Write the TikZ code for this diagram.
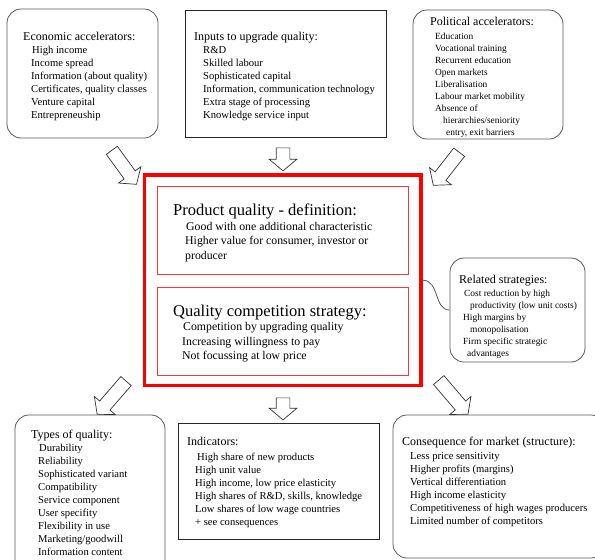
\documentclass[tikz,border=0pt]{standalone}
\usepackage{fontspec}
\setmainfont{Liberation Serif}
\usetikzlibrary{shapes.arrows, positioning}
\newcommand{\boxhead}[1]{{\fontsize{12}{13}\selectfont #1}}
\newcommand{\corehead}[1]{{\fontsize{16.5}{18}\selectfont #1}}

\begin{document}
\begin{tikzpicture}[x=1pt, y=-1pt]
    % styles
    \tikzstyle{rbox} = [rectangle, draw=black!65, line width=0.8pt, rounded corners=14pt]
    \tikzstyle{sbox} = [rectangle, draw=black!85, line width=0.8pt]
    \tikzstyle{redbox} = [rectangle, draw=red!80, line width=0.8pt]
    \tikzstyle{list} = [align=left, inner sep=0pt, anchor=north west, font=\fontsize{10.6}{13}\selectfont]
    \tikzstyle{small} = [list, font=\fontsize{9.4}{12}\selectfont]
    \tikzstyle{core} = [list, font=\fontsize{11.8}{14.5}\selectfont]
    \tikzstyle{fat} = [single arrow, draw=black!80, fill=white, line width=0.7pt, inner xsep=0pt, inner ysep=6.5pt, minimum width=27pt, single arrow head extend=7pt, single arrow tip angle=100]
    \tikzstyle{link} = [draw=black!65, line width=0.8pt]

    \useasboundingbox (0,0) rectangle (595,560);

    % boxes
    \node [rbox, minimum width=151pt, minimum height=129pt] (econ) at (82.5,73.5) {};
    \node [sbox, minimum width=201pt, minimum height=127pt] (inputs) at (285.5,73.5) {};
    \node [rbox, minimum width=150pt, minimum height=129pt] (polit) at (488,74.5) {};
    \node [rectangle, draw=red, line width=3.5pt, minimum width=276.5pt, minimum height=210.5pt] (main) at (282.75,280.25) {};
    \node [redbox, minimum width=251pt, minimum height=88pt] (def) at (282.5,230) {};
    \node [redbox, minimum width=251pt, minimum height=88pt] (strat) at (282.5,331) {};
    \node [rbox, minimum width=135pt, minimum height=104pt] (rel) at (517.5,310) {};
    \node [rbox, minimum width=150pt, minimum height=160pt] (types) at (90,495) {};
    \node [sbox, minimum width=201pt, minimum height=116pt] (ind) at (278.5,481) {};
    \node [rbox, minimum width=212pt, minimum height=143pt] (cons) at (499,486.5) {};

    % texts
    \node [list] (econtxt) at (23,32.3) {\boxhead{Economic accelerators:}\\
        \hspace*{9pt}High income\\
        \hspace*{8pt}Income spread\\
        \hspace*{8pt}Information (about quality)\\
        \hspace*{8pt}Certificates, quality classes\\
        \hspace*{8pt}Venture capital\\
        \hspace*{8pt}Entrepreneuship};
    \node [list] (inputstxt) at (194,32.3) {\boxhead{Inputs to upgrade quality:}\\
        \hspace*{9pt}R\&D\\
        \hspace*{9pt}Skilled labour\\
        \hspace*{9pt}Sophisticated capital\\
        \hspace*{9pt}Information, communication technology\\
        \hspace*{9pt}Extra stage of processing\\
        \hspace*{9pt}Knowledge service input};
    \node [small] (polittxt) at (430,17) {\boxhead{Political accelerators:}\\[2pt]
        \hspace*{5pt}Education\\
        \hspace*{5pt}Vocational training\\
        \hspace*{5pt}Recurrent education\\
        \hspace*{5pt}Open markets\\
        \hspace*{5pt}Liberalisation\\
        \hspace*{5pt}Labour market mobility\\
        \hspace*{5pt}Absence of\\
        \hspace*{13pt}hierarchies/seniority\\
        \hspace*{16pt}entry, exit barriers};
    \node [core] (deftxt) at (173,203.7) {\corehead{Product quality - definition:}\\
        \hspace*{13pt}Good with one additional characteristic\\
        \hspace*{12pt}Higher value for consumer, investor or\\
        \hspace*{12pt}producer};
    \node [core] (strattxt) at (173,304.7) {\corehead{Quality competition strategy:}\\
        \hspace*{10pt}Competition by upgrading quality\\
        \hspace*{9pt}Increasing willingness to pay\\
        \hspace*{9pt}Not focussing at low price};
    \node [small] (reltxt) at (459,275.3) {\boxhead{Related strategies:}\\[1pt]
        \hspace*{5pt}Cost reduction by high\\
        \hspace*{11pt}productivity (low unit costs)\\
        \hspace*{4pt}High margins by\\
        \hspace*{11pt}monopolisation\\
        \hspace*{4pt}Firm specific strategic\\
        \hspace*{8pt}advantages};
    \node [list] (typestxt) at (31,430.3) {\boxhead{Types of quality:}\\
        \hspace*{8pt}Durability\\
        \hspace*{7pt}Reliability\\
        \hspace*{7pt}Sophisticated variant\\
        \hspace*{7pt}Compatibility\\
        \hspace*{7pt}Service component\\
        \hspace*{7pt}User specifity\\
        \hspace*{7pt}Flexibility in use\\
        \hspace*{7pt}Marketing/goodwill\\
        \hspace*{7pt}Information content};
    \node [list] (indtxt) at (187,436.5) {\boxhead{Indicators:}\\[2pt]
        \hspace*{10pt}High share of new products\\
        \hspace*{8pt}High unit value\\
        \hspace*{8pt}High income, low price elasticity\\
        \hspace*{8pt}High shares of R\&D, skills, knowledge\\
        \hspace*{8pt}Low shares of low wage countries\\
        \hspace*{8pt}+ see consequences};
    \node [list] (constxt) at (402,437.3) {\boxhead{Consequence for market (structure):}\\[1pt]
        \hspace*{8pt}Less price sensitivity\\
        \hspace*{8pt}Higher profits (margins)\\
        \hspace*{8pt}Vertical differentiation\\
        \hspace*{8pt}High income elasticity\\
        \hspace*{8pt}Competitiveness of high wages producers\\
        \hspace*{8pt}Limited number of competitors};

    % arrows
    \node [fat, rotate=-54, minimum height=42pt] (a1) at (122.5,165) {};
    \node [fat, rotate=-90, minimum height=23pt] (a2) at (283,156.5) {};
    \node [fat, rotate=-128, minimum height=42pt] (a3) at (448,166.5) {};
    \node [fat, rotate=-131, minimum height=44pt] (a4) at (113.5,395.5) {};
    \node [fat, rotate=-90, minimum height=22pt] (a5) at (283,406) {};
    \node [fat, rotate=-49.5, minimum height=45pt] (a6) at (451.5,395) {};

    % link to related strategies
    \path [link] (main.east) .. controls +(17,0) and +(-16,0) .. (rel.west);
\end{tikzpicture}
\end{document}
